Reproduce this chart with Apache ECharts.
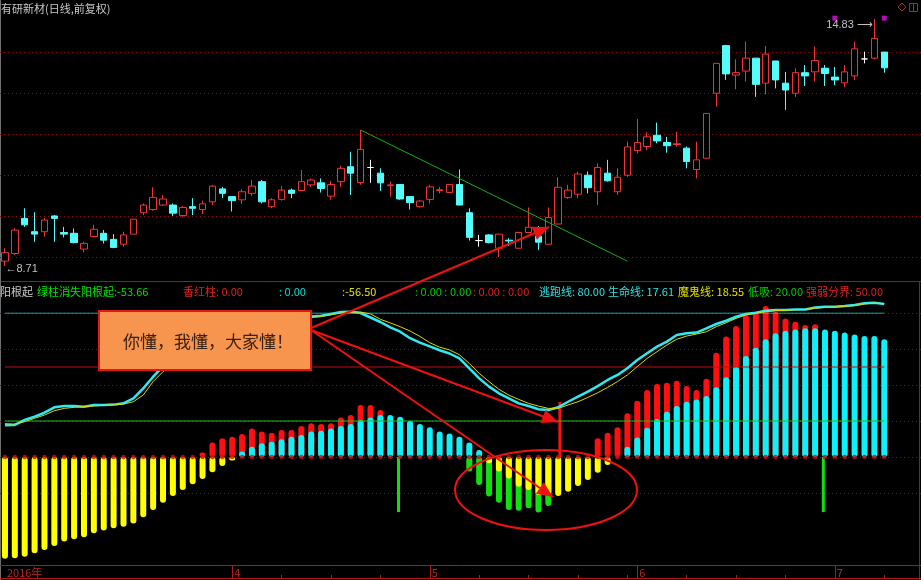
<!DOCTYPE html>
<html>
<head>
<meta charset="utf-8">
<script src="https://cdn.jsdelivr.net/npm/echarts@6/dist/echarts.min.js"></script>
<style>
html, body { margin: 0; padding: 0; background: #000; }
#chart { width: 921px; height: 580px; }
</style>
</head>
<body>
<div id="chart"></div>
<script>
// ---- trading calendar (2016-03 .. 2016-07) ----
const marchDays = [1,2,3,4,7,8,9,10,11,14,15,16,17,18,21,22,23,24,25,28,29,30,31];
const aprilDays = [1,5,6,7,8,11,12,13,14,15,18,19,20,21,22,25,26,27,28,29];
const mayDays   = [3,4,5,6,9,10,11,12,13,16,17,18,19,20,23,24,25,26,27,30,31];
const juneDays  = [1,2,3,6,7,8,13,14,15,16,17,20,21,22,23,24,27,28,29,30];
const julyDays  = [1,4,5,6,7,8];
const fmt = (m, d) => '2016-' + String(m).padStart(2, '0') + '-' + String(d).padStart(2, '0');
const dates = [].concat(
  marchDays.map(d => fmt(3, d)), aprilDays.map(d => fmt(4, d)), mayDays.map(d => fmt(5, d)),
  juneDays.map(d => fmt(6, d)), julyDays.map(d => fmt(7, d))
);

// ---- daily prices ----
const opens = [8.83,9.02,9.89,9.56,9.56,9.95,9.54,9.52,9.13,9.44, 9.52,9.37,9.25,9.50,10.03,10.11,10.22,10.22,9.96,10.18,
  10.11,10.30,10.62,10.43,10.35,10.51,10.80,10.18,10.36,10.59, 10.58,10.72,10.77,10.44,10.80,11.17,10.78,11.15,11.01,10.70,
  10.73,10.43,10.18,10.36,10.58,10.53,10.73,10.03,9.34,9.48, 9.15,9.35,9.15,9.54,9.45,9.25,9.75,10.41,10.49,10.96,
  10.55,11.01,10.55,10.96,11.57,11.67,11.95,11.77,11.72,11.63, 11.10,11.38,12.99,14.17,13.44,13.54,13.86,13.24,13.79,13.24,
  12.99,13.50,13.52,13.61,13.39,13.25,13.42,13.84,13.86,14.01];
const closes = [9.04,9.60,9.73,9.50,9.85,9.89,9.50,9.29,9.27,9.62, 9.35,9.17,9.48,9.87,10.22,10.41,10.37,10.02,10.16,10.14,
  10.25,10.69,10.51,10.33,10.55,10.69,10.30,10.35,10.59,10.51, 10.80,10.84,10.63,10.73,11.13,11.01,11.60,11.15,10.77,10.72,
  10.37,10.28,10.32,10.67,10.60,10.73,10.22,9.42,9.34,9.29, 9.50,9.33,9.54,9.67,9.30,9.91,10.66,10.59,10.99,10.65,
  11.15,10.82,10.91,11.66,11.77,11.91,11.81,11.69,11.74,11.30, 11.34,12.49,13.73,13.47,13.50,13.86,13.21,13.96,13.32,13.07,
  13.50,13.42,13.80,13.48,13.32,13.52,14.09,13.84,14.35,13.62];
const lows = [8.71,8.98,9.68,9.31,9.44,9.31,9.42,9.27,9.05,9.42, 9.27,9.15,9.19,9.50,9.97,10.08,10.20,9.95,9.93,9.97,
  10.00,10.22,10.39,10.06,10.25,10.44,10.26,10.14,10.33,10.39, 10.57,10.67,10.53,10.35,10.67,10.47,10.72,10.77,10.57,10.43,
  10.35,10.11,10.16,10.26,10.51,10.53,10.22,9.34,9.19,9.27, 8.93,9.21,9.15,9.54,9.11,9.25,9.75,10.37,10.39,10.51,
  10.22,10.80,10.47,10.92,11.50,11.58,11.75,11.52,11.67,11.13, 10.88,11.38,12.66,13.32,13.09,13.28,12.90,12.96,13.11,12.58,
  12.90,13.17,13.28,13.17,13.19,13.14,13.32,13.73,13.83,13.50];
const highs = [9.15,9.65,10.14,10.04,9.90,9.97,9.68,9.64,9.31,9.73, 9.60,9.50,9.56,9.87,10.26,10.66,10.47,10.26,10.20,10.39,
  10.33,10.72,10.67,10.43,10.61,10.84,10.84,10.39,10.69,10.63, 11.09,10.88,10.88,10.82,11.19,11.54,12.08,11.34,11.13,10.80,
  10.73,10.44,10.35,10.72,10.67,10.73,11.10,10.14,9.48,9.50, 9.50,9.40,9.56,10.16,9.70,10.16,10.91,10.72,11.05,11.05,
  11.25,11.34,11.13,11.79,12.35,12.02,12.26,11.91,12.04,11.67, 11.79,12.49,13.73,14.19,13.83,14.27,13.86,14.16,13.79,13.52,
  13.61,13.69,14.15,13.69,13.64,13.69,14.27,14.02,14.83,14.01];

// hand-drawn trend line [bar index, price] and signal marks
const trendLine = [[36, 12.08], [63, 8.83]];
const signalMarks = [[84, 14.85], [89, 14.85]];

// ---- indicator: lines ----
const lifeLine = [17.61,17.8,20.6,22.4,24.6,27.6,28.3,28.3,27.9,28.9, 28.9,29.1,29.8,32.6,38.1,44.6,50.2,55,60,64,
  67,70,72,73.5,74.5,75.5,76,76.5,77,77.5, 77.8,78,78.5,79.5,80.5,80.7,80,77.5,75,72,
  69.6,66,63.5,61.5,59.3,57.5,54.8,49.3,43.7,39.1, 35.4,32.6,29.8,28.3,26.5,26.1,27.6,30.7,33.5,36.3,
  39.4,42.8,45.6,49.3,53.9,57.6,61.3,64.1,67.8,68.7, 69.1,71.5,73.9,75.7,77.9,79.4,80.2,81.3,81.7,81.7,
  82,82,83.1,83.5,83.5,83.9,84.4,85.4,85.7,85];
const devilLine = [18.55,18.3,19.6,21.5,23.3,25.7,27,27.6,27.9,28.3, 28.7,28.9,29.4,30.7,34.4,41.9,47.4,52,57,61,
  65,68,70.5,72,73.5,74.5,75.5,76,76.5,77, 77.3,77.5,78,79,80,80.5,80.5,79.5,76.5,74.5,
  72.4,70,67,63.5,61,59.5,56.8,52,46.5,41.9, 37.6,34.4,32,29.8,28.3,27,27,28.9,30.7,33.1,
  35.7,38.7,41.9,45.6,50.2,54.8,58.5,62.2,65.4,67.2, 68.3,69.6,72.4,74.6,77,78.9,79.8,80.7,81.3,81.5,
  81.8,82,82.6,83.1,83.3,83.7,84.1,85,85.5,85.2];
const escapeLevel = 80;   // 逃跑线
const divideLevel = 50;   // 强弱分界
const lowBuyLevel = 20;   // 低吸

// ---- indicator: sticks, given as a start bar index plus consecutive values ----
const yellowSticksA = { start: 0,  values: [-56.5,-56.3,-55.4,-53.5,-51.7,-49.4,-47.0,-45.7,-44.6,-42.4,-40.9,-39.6,-38.7,-36.9,-33.5,-29.4,-25.4,-21.7,-18.3,-15.2,-12.2,-8.5,-5.0,-2.0] };
const yellowSticksB = { start: 49, values: [-3.5,-8.1,-11.9,-16.5,-18.3,-21.1,-21.0,-21.7,-19.3,-16.1,-12.8,-8.7,-4.4] };
const greenSticksA  = { start: 0,  values: [-53.66] };
const greenSticksB  = { start: 47, values: [-8.1,-15.6,-22,-25.4,-29.4,-29.8,-28.5,-30.9,-27.2] };
const redSticksA    = { start: 20, values: [2.5,8,10.4,11.3,12.8,15.9,14.1,13.5,15,15,17.2,18.7,18.3,18.7,22,23.3,28.9,28.9,26.1] };
const redSticksB    = { start: 60, values: [10.4,13.5,16.5,24.3,31.3,37.2,40.6,41.3,42.4,39.4,37.2,43.5,57.9,66.9,72.8,78.9,80.7,83.9,80.7,77,75.2,73.3,73.7] };
const cyanSticksA   = { start: 24, values: [3,5.7,7.6,8.5,9.8,11.3,12.2,14.1,14.6,15.9,17.2,18.3,20.6,22,23.3,23.3,22.4,20.2,18.3,16.5,14.1,13.1,11.3,8,3.9] };
const cyanSticksB   = { start: 63, values: [5.7,10.9,16.3,21.1,25.2,28.3,30.7,32,33.9,38.7,44.3,50.2,56.1,60.7,65.4,68.7,70.2,70.9,71.5,71.5,70.9,70.2,69.1,68,67.2,67.2,65.4] };
const greenSpikes = [[40, -30.6], [83, -30.6]];
const redSpikes   = [[56, 30.6]];

const toPairs = (...segs) => segs.flatMap(s => s.values.map((v, k) => [s.start + k, v]));
const yellowData = toPairs(yellowSticksA, yellowSticksB);
const greenData  = toPairs(greenSticksA, greenSticksB);
const redData    = toPairs(redSticksA, redSticksB);
const cyanData   = toPairs(cyanSticksA, cyanSticksB);
const lastIdx = dates.length - 1;
const baseDots = dates.map((d, i) => [i, 0]);

// ---- calendar axis helpers ----
const monthOf = s => +s.slice(5, 7);
const monthStarts = dates.map((d, i) => i > 0 && monthOf(d) !== monthOf(dates[i - 1]) ? i : -1).filter(i => i >= 0);
const dayTicks = new Set();
monthStarts.forEach((m, k) => {
  const end = k + 1 < monthStarts.length ? monthStarts[k + 1] : dates.length;
  for (let t = m + 5; t < end; t += 5) dayTicks.add(t);
});

// ---- geometry of the top/bottom panels ----
const CJK = '"Noto Sans CJK SC", "Noto Sans", sans-serif';
const PLOT_W = 9.88 * dates.length;
const GRID_RED = '#8a1010';
const AXIS_RED = '#b01818';

const candleData = opens.map((o, i) => {
  const item = { value: [o, closes[i], lows[i], highs[i]] };
  if (o === closes[i]) item.itemStyle = { color: '#ffffff', borderColor: '#ffffff' };
  return item;
});

function stickSeries(name, data, color, width, xIdx) {
  return {
    name, type: 'bar', xAxisIndex: xIdx, yAxisIndex: 3, data,
    barWidth: width, barGap: '-100%', clip: false, silent: true,
    itemStyle: { color, borderRadius: width / 2 }
  };
}
function levelSeries(name, level, color) {
  return { name, type: 'line', xAxisIndex: 3, yAxisIndex: 3, data: [[0, level], [lastIdx, level]],
    symbol: 'none', silent: true, lineStyle: { color, width: 1 } };
}

// callout arrows
function arrowHead(x1, y1, x2, y2, len, half) {
  const dx = x2 - x1, dy = y2 - y1, L = Math.hypot(dx, dy);
  const ux = dx / L, uy = dy / L, bx = x2 - ux * len, by = y2 - uy * len;
  return [[x2, y2], [bx - uy * half, by + ux * half], [bx + uy * half, by - ux * half]];
}
const arrows = [
  [311, 328, 549, 227],
  [311, 330, 558, 422],
  [311, 330, 553, 497]
];
const ARROW_RED = '#ee1111';
const arrowGraphics = [];
arrows.forEach(a => {
  arrowGraphics.push({ type: 'line', shape: { x1: a[0], y1: a[1], x2: a[2], y2: a[3] }, style: { stroke: ARROW_RED, lineWidth: 2 }, z: 100 });
  arrowGraphics.push({ type: 'polygon', shape: { points: arrowHead(a[0], a[1], a[2], a[3], 16, 7) }, style: { fill: ARROW_RED }, z: 100 });
});

const legendRow = [
  { x: 0,   text: '阳根起', color: '#c8c8c8' },
  { x: 37,  text: '绿柱消失阳根起:' + greenSticksA.values[0].toFixed(2), color: '#00e000' },
  { x: 183, text: '香红柱: 0.00', color: '#e02020' },
  { x: 279, text: ': 0.00', color: '#00e0e0' },
  { x: 342, text: ':' + yellowSticksA.values[0].toFixed(2), color: '#e0e000' },
  { x: 415, text: ': 0.00 : 0.00', color: '#00d000' },
  { x: 473, text: ': 0.00 : 0.00', color: '#e02020' },
  { x: 539, text: '逃跑线: ' + escapeLevel.toFixed(2), color: '#30e0e0' },
  { x: 608, text: '生命线: ' + lifeLine[0].toFixed(2), color: '#30e0e0' },
  { x: 678, text: '魔鬼线: ' + devilLine[0].toFixed(2), color: '#e0e000' },
  { x: 748, text: '低吸: ' + lowBuyLevel.toFixed(2), color: '#00d000' },
  { x: 806, text: '强弱分界: ' + divideLevel.toFixed(2), color: '#e02020' }
];

const chart = echarts.init(document.getElementById('chart'), null, { renderer: 'canvas' });
chart.setOption({
  backgroundColor: '#000000',
  animation: false,
  grid: [
    { left: 0, width: PLOT_W, top: 12, height: 258 },            // 0 price
    { left: 0, right: 0, top: 52, height: 205 },                 // 1 price gridlines
    { left: 0, width: PLOT_W, top: 313, height: 180 },           // 2 indicator
    { left: 0, right: 0, top: 313, height: 180 },                // 3 indicator gridlines
    { left: 4.94, width: 9.88 * lastIdx, top: 565, height: 13 }  // 4 calendar strip
  ],
  xAxis: [
    { type: 'category', gridIndex: 0, data: dates, show: false },
    { type: 'value', gridIndex: 1, min: 0, max: 1, show: false },
    { type: 'category', gridIndex: 2, data: dates, show: false },
    { type: 'category', gridIndex: 2, data: dates, show: false },
    { type: 'value', gridIndex: 3, min: 0, max: 1, show: false },
    {
      type: 'category', gridIndex: 4, data: dates, boundaryGap: false, position: 'top',
      axisLine: { show: false },
      axisTick: { show: true, inside: false, length: 3, interval: i => dayTicks.has(i), lineStyle: { color: AXIS_RED } },
      axisLabel: {
        show: true, inside: true, margin: 2, color: '#b82828', fontSize: 11, align: 'left',
        fontFamily: CJK, padding: [0, 0, 0, 2],
        interval: i => i === 0 || monthStarts.includes(i),
        formatter: (v, i) => i === 0 ? v.slice(0, 4) + '年' : String(monthOf(v))
      },
      splitLine: { show: true, interval: i => monthStarts.includes(i), lineStyle: { color: AXIS_RED, width: 1 } }
    }
  ],
  yAxis: [
    { type: 'value', gridIndex: 0, min: 8.611, max: 15.003, show: false, splitLine: { show: false } },
    { type: 'value', gridIndex: 1, min: 0, max: 5, interval: 1, axisLine: { show: false }, axisTick: { show: false }, axisLabel: { show: false },
      splitLine: { show: true, lineStyle: { color: GRID_RED, type: [1, 3], width: 1 } } },
    { type: 'value', gridIndex: 2, min: -20, max: 80, show: false, splitLine: { show: false } },
    { type: 'value', gridIndex: 2, min: -20, max: 80, show: false, splitLine: { show: false } },
    { type: 'value', gridIndex: 3, min: -20, max: 80, interval: 20, axisLine: { show: false }, axisTick: { show: false }, axisLabel: { show: false },
      splitLine: { show: true, lineStyle: { color: GRID_RED, type: [1, 3], width: 1 } } },
    { type: 'value', gridIndex: 4, min: 0, max: 1, show: false, splitLine: { show: false } }
  ],
  series: [
    {
      name: 'K线', type: 'candlestick', xAxisIndex: 0, yAxisIndex: 0, data: candleData,
      barWidth: 7, clip: false, silent: true,
      itemStyle: { color: '#000000', color0: '#54fcfc', borderColor: '#f03434', borderColor0: '#54fcfc', borderWidth: 1 },
      markPoint: {
        symbol: 'circle', symbolSize: 1, silent: true, itemStyle: { color: 'rgba(0,0,0,0)' },
        data: [
          { type: 'max', valueDim: 'highest',
            label: { show: true, position: 'left', distance: 1, offset: [0, 6], color: '#c0c0c0', fontSize: 11, fontFamily: 'Liberation Sans',
              formatter: p => p.value.toFixed(2) + ' ⟶' } },
          { type: 'min', valueDim: 'lowest',
            label: { show: true, position: 'right', distance: 0, offset: [0, 3], color: '#c0c0c0', fontSize: 11, fontFamily: 'Liberation Sans',
              formatter: p => '←' + p.value.toFixed(2) } }
        ]
      }
    },
    {
      name: '趋势线', type: 'line', xAxisIndex: 0, yAxisIndex: 0, data: trendLine,
      symbol: 'none', clip: false, silent: true, lineStyle: { color: '#10b010', width: 1 }
    },
    {
      name: '信号', type: 'scatter', xAxisIndex: 0, yAxisIndex: 0, data: signalMarks,
      symbol: 'rect', symbolSize: 5, clip: false, silent: true, itemStyle: { color: '#e010e0' }
    },
    // sticks
    stickSeries('绿柱', greenData, '#10e010', 6, 2),
    stickSeries('黄柱', yellowData, '#ffff00', 6, 2),
    stickSeries('香红柱', redData, '#ff1010', 6, 2),
    stickSeries('蓝柱', cyanData, '#10f0f8', 6, 2),
    { name: '绿针', type: 'bar', xAxisIndex: 3, yAxisIndex: 3, data: greenSpikes, barWidth: 3, clip: false, silent: true, itemStyle: { color: '#10e010' } },
    { name: '红针', type: 'bar', xAxisIndex: 3, yAxisIndex: 3, data: redSpikes, barWidth: 3, clip: false, silent: true, itemStyle: { color: '#ff1010' } },
    // threshold lines, drawn across the sticks
    levelSeries('逃跑线', escapeLevel, '#30c8d0'),
    levelSeries('强弱分界', divideLevel, '#c01010'),
    levelSeries('低吸', lowBuyLevel, '#20c020'),
    { name: '零轴', type: 'scatter', xAxisIndex: 3, yAxisIndex: 3, data: baseDots, symbolSize: 4.5, silent: true, itemStyle: { color: '#d01010' } },
    // life / devil lines
    { name: '魔鬼线', type: 'line', xAxisIndex: 3, yAxisIndex: 3, data: devilLine, symbol: 'none', clip: false, silent: true,
      lineStyle: { color: '#d8d800', width: 1 }, z: 5 },
    { name: '生命线', type: 'line', xAxisIndex: 3, yAxisIndex: 3, data: lifeLine, symbol: 'none', clip: false, silent: true,
      lineStyle: { color: '#30e8f0', width: 2.5 }, z: 4 }
  ],
  graphic: [
    { type: 'text', x: 1, y: 9, style: { text: '有研新材(日线,前复权)', fill: '#c8c8c8', font: '11px ' + CJK, verticalAlign: 'middle' } },
    // panel frame
    { type: 'line', shape: { x1: 0, y1: 281.5, x2: 921, y2: 281.5 }, style: { stroke: '#b01010', lineWidth: 1 } },
    { type: 'line', shape: { x1: 0.5, y1: 0, x2: 0.5, y2: 580 }, style: { stroke: '#707070', lineWidth: 1 } },
    { type: 'line', shape: { x1: 919.5, y1: 281, x2: 919.5, y2: 580 }, style: { stroke: '#b01010', lineWidth: 1 } },
    { type: 'line', shape: { x1: 0, y1: 565.5, x2: 921, y2: 565.5 }, style: { stroke: AXIS_RED, lineWidth: 1 } },
    { type: 'line', shape: { x1: 0, y1: 578.5, x2: 921, y2: 578.5 }, style: { stroke: AXIS_RED, lineWidth: 1 } },
    // top-right tool icons
    { type: 'polygon', shape: { points: [[902, 3], [906, 7], [902, 11], [898, 7]] }, style: { fill: 'none', stroke: '#a03030', lineWidth: 1 } },
    { type: 'rect', shape: { x: 909.5, y: 3.5, width: 8, height: 8 }, style: { fill: 'none', stroke: '#a03030', lineWidth: 1 } },
    { type: 'line', shape: { x1: 913.5, y1: 3.5, x2: 913.5, y2: 11.5 }, style: { stroke: '#a03030', lineWidth: 1 } },
    // indicator legend row
    ...legendRow.map(t => ({ type: 'text', x: t.x, y: 292, style: { text: t.text, fill: t.color, font: '11px ' + CJK, verticalAlign: 'middle' } })),
    // callout
    ...arrowGraphics,
    { type: 'rect', shape: { x: 99, y: 311, width: 212, height: 59 }, style: { fill: '#f7954f', stroke: '#e01818', lineWidth: 2 }, z: 101 },
    { type: 'text', x: 123, y: 342, style: { text: '你懂，我懂，大家懂！', fill: '#3a2010', font: '17px ' + CJK, verticalAlign: 'middle' }, z: 102 },
    { type: 'ellipse', shape: { cx: 546, cy: 490, rx: 91, ry: 40 }, style: { fill: 'none', stroke: ARROW_RED, lineWidth: 2 }, z: 100 }
  ]
});
</script>
</body>
</html>
